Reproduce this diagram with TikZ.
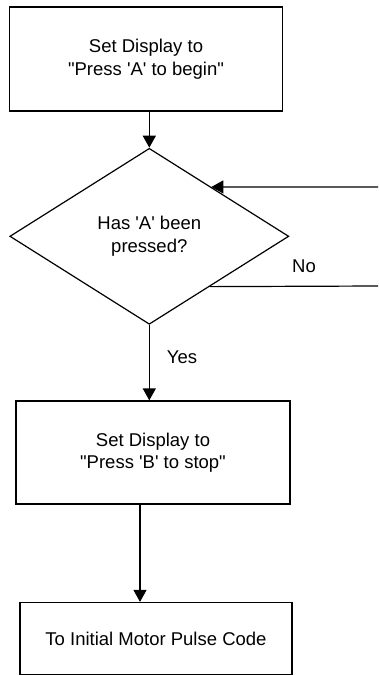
\documentclass[tikz,border=0pt]{standalone}
\usepackage{fontspec}
% a family without the TeX ligature mapping, so quote marks stay straight
\newfontfamily\labelfont{Liberation Sans}
\usetikzlibrary{shapes.geometric,arrows.meta,calc}
\begin{document}
\begin{tikzpicture}[x=1pt,y=-1pt,
  line width=1.2pt,
  every node/.style={font=\labelfont\fontsize{18.5}{22.5}\selectfont, align=center},
  procbox/.style={draw, rectangle, inner sep=0pt},
  decision/.style={draw, diamond, inner sep=0pt, minimum width=279, minimum height=176},
  flow/.style={-{Triangle[length=12pt,width=13pt]}},
  lbl/.style={inner sep=0pt}]
\useasboundingbox (0,0) rectangle (378,675);

% process steps
\node[procbox, minimum width=273, minimum height=104] (start) at (146,59)
  {Set Display to\\"Press 'A' to begin"};
\node[decision] (ask) at (149.3,236.3) {Has 'A' been\\pressed?};
\node[procbox, minimum width=274, minimum height=103] (stop) at (153,452.5)
  {Set Display to\\"Press 'B' to stop"};
\node[procbox, minimum width=272, minimum height=72] (motor) at (156,638.5)
  {To Initial Motor Pulse Code};

% loose ends of the wait loop at the right margin
\coordinate (loopin) at (378,187);
\coordinate (loopout) at (378,286);
\coordinate (edgein) at ($(ask.north)!0.443!(ask.east)$);
\coordinate (edgeout) at ($(ask.east)!0.568!(ask.south)$);

% connectors
\draw[flow] (start.south -| ask.north) -- (ask.north);
\draw[flow] (loopin) -- (edgein);
\draw (edgeout) -- (loopout);
\draw[flow] (ask.south) -- (ask.south |- stop.north);
\draw[flow] ([xshift=-13pt]stop.south) -- ([xshift=-13pt]stop.south |- motor.north);

% branch labels
\node[lbl] (no) at (304,266) {No};
\node[lbl] (yes) at (182,357) {Yes};
\end{tikzpicture}
\end{document}
